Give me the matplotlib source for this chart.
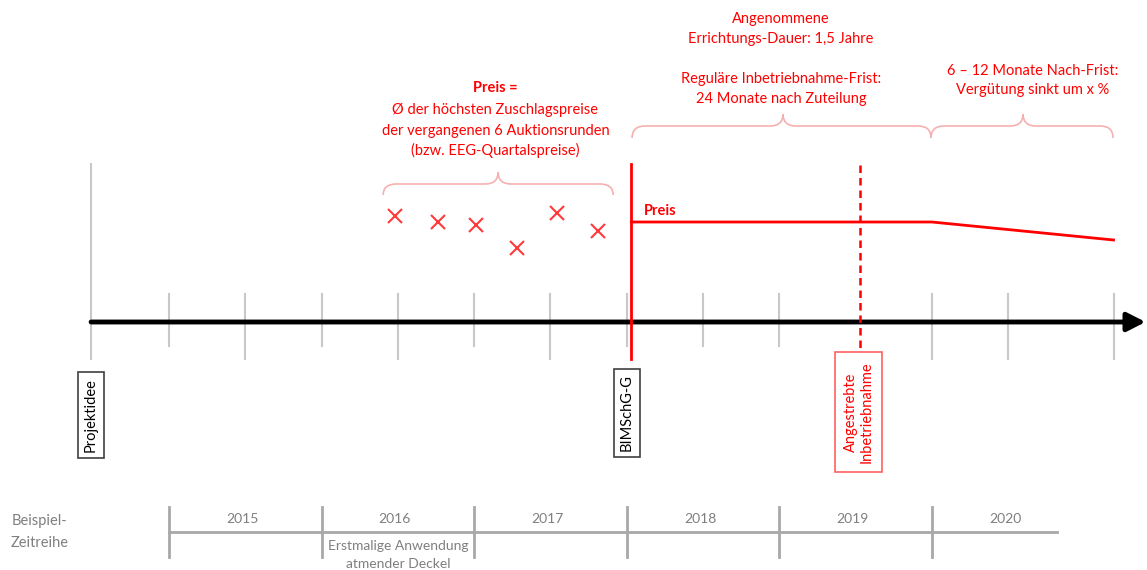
import matplotlib.pyplot as plt
from matplotlib.path import Path
from matplotlib.patches import PathPatch

plt.rcParams['font.family'] = ['Lato', 'DejaVu Sans']

# ===============================
# DATA
# ===============================
# time axis in years, vertical axis in price units (0 = time axis)
axis_ticks = [2014.5, 2015, 2015.5, 2016, 2016.5, 2017, 2017.5, 2018,
              2018.5, 2019, 2020, 2020.5, 2021.19]
tick_long = [False, False, True, False, True, False, True, False,
             False, False, True, True, True]

auction_dates = [2016.48, 2016.76, 2017.01, 2017.28, 2017.54, 2017.81]
auction_prices = [106, 100, 97, 74, 109, 91]

price_dates = [2018.03, 2020.0, 2021.19]
price_values = [100, 100, 82]

project_idea = 2014.49
permit_date = 2018.03
target_date = 2019.53
axis_end = 2021.40

years = [2015, 2016, 2017, 2018, 2019, 2020]
year_labels = ["2015", "2016", "2017", "2018", "2019", "2020"]
years_end = 2020.82

RED = "#ff0000"
LIGHT_RED = "#f7b0b0"
GRAY = "#c8c8c8"
TXT_GRAY = "#7f7f7f"

X0 = 2013.893
XS = 152.6  # px per year

fig = plt.figure(figsize=(11.47, 5.70), dpi=100)
ax = fig.add_axes([0, 0, 1, 1])
ax.set_xlim(X0, X0 + 1147 / XS)
ax.set_ylim(-248, 322)
ax.axis("off")


def brace(x0, x1, xc, y_end, y_mid, y_tip, r=13):
    rx = r / XS
    verts = [(x0, y_end), (x0, y_mid), (x0 + rx, y_mid),
             (xc - rx, y_mid),
             (xc, y_mid), (xc, y_tip),
             (xc, y_mid), (xc + rx, y_mid),
             (x1 - rx, y_mid),
             (x1, y_mid), (x1, y_end)]
    codes = [Path.MOVETO, Path.CURVE3, Path.CURVE3,
             Path.LINETO,
             Path.CURVE3, Path.CURVE3,
             Path.CURVE3, Path.CURVE3,
             Path.LINETO,
             Path.CURVE3, Path.CURVE3]
    ax.add_patch(PathPatch(Path(verts, codes), fill=False,
                           edgecolor=LIGHT_RED, lw=1.2))


# ===============================
# TIME AXIS
# ===============================
for t, lng in zip(axis_ticks[1:], tick_long[1:]):
    ax.plot([t, t], [28, -37 if lng else -24], color=GRAY, lw=1.5, zorder=1)
ax.plot([project_idea, project_idea], [158, -37], color=GRAY, lw=1.5, zorder=1)

ax.annotate("", xy=(axis_end, 0), xytext=(project_idea, 0),
            arrowprops=dict(arrowstyle="-|>,head_length=0.55,head_width=0.28",
                            lw=3.5, color="black", shrinkA=0, shrinkB=0,
                            mutation_scale=20), zorder=3)

# ===============================
# PRICES
# ===============================
ax.plot(auction_dates, auction_prices, linestyle="none", marker="x",
        markersize=10, mew=1.5, color="#ff3a3a")

ax.plot([permit_date, permit_date], [158, -37], color=RED, lw=2, zorder=4)
ax.plot([target_date, target_date], [157, -35], color=RED, lw=1.8,
        dashes=(3, 2), zorder=4)
ax.plot(price_dates, price_values, color=RED, lw=2, zorder=4)
ax.text(permit_date + 0.085, 111, "Preis", color=RED, fontsize=10.5,
        fontweight="bold", ha="left", va="center")

# ===============================
# BRACES + ANNOTATIONS
# ===============================
brace(2016.404, 2017.911, 2017.157, 127, 138, 150)
brace(2018.035, 2019.994, 2019.024, 184, 196, 208)
brace(2019.994, 2021.187, 2020.597, 184, 196, 208)

ax.text(2017.14, 234, "Preis =", color=RED, fontsize=10.5,
        fontweight="bold", ha="center", va="center")
for y, s in zip([212, 191, 172], ["Ø der höchsten Zuschlagspreise",
                                  "der vergangenen 6 Auktionsrunden",
                                  "(bzw. EEG-Quartalspreise)"]):
    ax.text(2017.14, y, s, color=RED, fontsize=10.5, ha="center", va="center")

for y, s in zip([303, 283, 243, 223], ["Angenommene",
                                       "Errichtungs-Dauer: 1,5 Jahre",
                                       "Reguläre Inbetriebnahme-Frist:",
                                       "24 Monate nach Zuteilung"]):
    ax.text(2019.01, y, s, color=RED, fontsize=10.5, ha="center", va="center")

for y, s in zip([251, 232], ["6 – 12 Monate Nach-Frist:",
                             "Vergütung sinkt um x %"]):
    ax.text(2020.66, y, s, color=RED, fontsize=10.5, ha="center", va="center")

# ===============================
# MILESTONE BOXES
# ===============================
ax.text(project_idea, -93, "Projektidee", rotation=90, fontsize=10.5,
        color="black", ha="center", va="center",
        bbox=dict(boxstyle="square,pad=0.4", fc="white", ec="#404040", lw=1.2))
ax.text(2018.0, -91, "BIMSchG-G", rotation=90, fontsize=10.5,
        color="black", ha="center", va="center",
        bbox=dict(boxstyle="square,pad=0.4", fc="white", ec="#404040", lw=1.2))
ax.text(2019.52, -90, "Angestrebte\nInbetriebnahme", rotation=90,
        fontsize=10.5, color=RED, ha="center", va="center", linespacing=1.15,
        bbox=dict(boxstyle="square,pad=0.6", fc="white", ec="#ff6060", lw=1.2),
        zorder=5)

# ===============================
# EXAMPLE TIME SERIES
# ===============================
ax.plot([years[0], years_end], [-210, -210], color="#a8a8a8", lw=2)
for yr in years:
    ax.plot([yr, yr], [-185, -235], color="#a8a8a8", lw=2)
for yr, lab in zip(years, year_labels):
    ax.text(yr + 0.48, -197, lab, color=TXT_GRAY, fontsize=10,
            ha="center", va="center")

ax.text(2014.15, -199, "Beispiel-", color=TXT_GRAY, fontsize=10.5,
        ha="center", va="center")
ax.text(2014.15, -221, "Zeitreihe", color=TXT_GRAY, fontsize=10.5,
        ha="center", va="center")
ax.text(2016.5, -224, "Erstmalige Anwendung", color=TXT_GRAY, fontsize=10,
        ha="center", va="center")
ax.text(2016.5, -242, "atmender Deckel", color=TXT_GRAY, fontsize=10,
        ha="center", va="center")

fig.savefig("out.png", dpi=100)
